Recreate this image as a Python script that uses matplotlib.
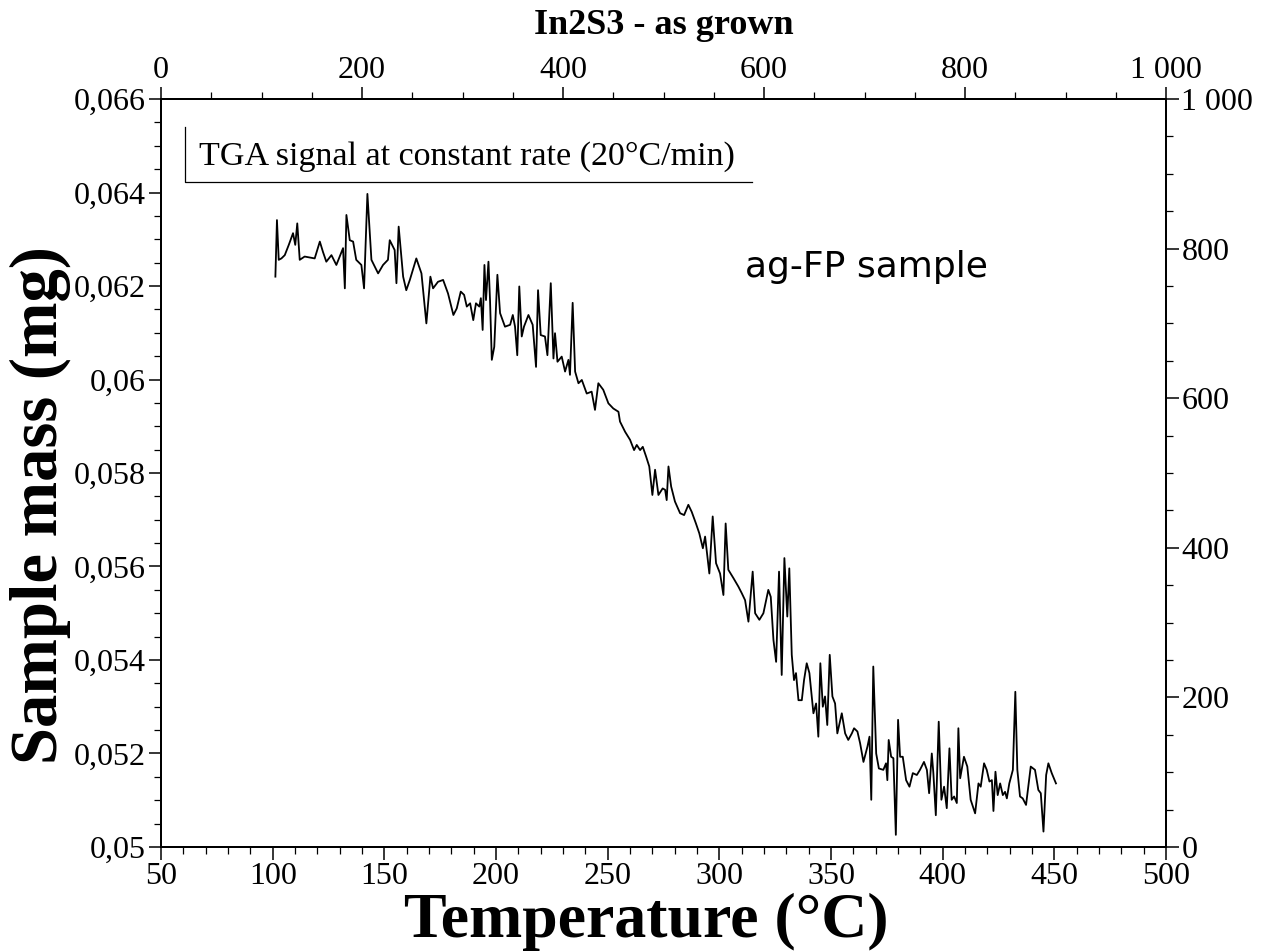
import matplotlib
matplotlib.use("Agg")
import matplotlib.pyplot as plt
from matplotlib.ticker import MultipleLocator, FuncFormatter

plt.rcParams["font.family"] = ["Liberation Serif", "DejaVu Serif"]

# TGA trace (temperature in C, mass in mg)
temp_c = [
    101.2, 101.9, 102.7, 103.9, 105.4, 107.2, 109.1, 110.1, 111.0, 112.1,
    114.3, 118.8, 121.1, 122.5, 124.0, 126.3, 128.5, 130.0, 131.5, 132.3,
    133.0, 134.5, 136.0, 137.4, 139.7, 140.9, 142.4, 144.2, 147.2, 149.4,
    151.6, 152.4, 154.6, 155.4, 156.4, 158.4, 159.8, 161.4, 164.3, 166.6,
    168.8, 170.6, 171.8, 174.0, 176.3, 178.5, 180.9, 182.4, 184.2, 185.7,
    186.9, 188.4, 189.8, 191.0, 192.5, 193.2, 194.0, 194.8, 195.5, 196.6,
    197.3, 198.1, 199.2, 200.6, 201.8, 204.0, 206.3, 207.5, 208.5, 209.5,
    210.4, 211.5, 212.5, 214.5, 216.4, 217.9, 218.8, 220.0, 221.9, 223.0,
    224.5, 225.7, 226.4, 227.5, 229.4, 230.9, 232.4, 233.1, 234.3, 235.4,
    236.9, 238.4, 240.6, 242.8, 244.3, 245.8, 248.0, 250.3, 252.5, 254.8,
    255.5, 257.8, 260.0, 261.8, 263.0, 264.5, 265.7, 267.2, 268.6, 270.0,
    271.2, 272.7, 274.6, 275.7, 276.4, 277.2, 278.4, 280.1, 282.4, 284.2,
    286.1, 287.6, 289.5, 291.0, 292.6, 293.6, 295.5, 297.0, 298.5, 300.3,
    301.8, 302.8, 304.0, 306.3, 308.5, 310.0, 311.5, 313.0, 314.9, 316.0,
    317.9, 319.7, 321.9, 323.0, 324.2, 325.4, 326.7, 327.9, 329.1, 330.4,
    331.3, 332.4, 333.4, 334.3, 335.4, 336.9, 337.9, 339.1, 340.3, 342.1,
    343.3, 344.3, 345.2, 346.3, 347.3, 348.3, 349.4, 350.6, 351.8, 352.8,
    354.8, 356.3, 357.7, 359.3, 360.3, 361.8, 363.0, 364.5, 366.3, 367.2,
    368.0, 368.9, 370.2, 371.4, 373.4, 374.6, 375.2, 375.8, 376.9, 377.9,
    379.0, 380.0, 380.9, 382.1, 383.6, 385.1, 386.6, 388.4, 389.8, 391.6,
    392.9, 393.9, 395.1, 395.8, 396.9, 398.2, 399.4, 400.6, 401.8, 403.0,
    404.0, 405.1, 406.3, 407.0, 407.8, 409.5, 411.0, 412.5, 414.5, 416.0,
    417.0, 418.5, 419.7, 420.9, 422.0, 422.7, 423.6, 424.6, 425.7, 426.9,
    427.9, 428.7, 429.8, 431.4, 432.5, 433.4, 434.6, 435.8, 437.3, 439.4,
    441.3, 442.8, 443.9, 445.1, 446.3, 447.3, 448.8, 450.7,
]
mass_mg = [
    0.06220, 0.06341, 0.06256, 0.06259, 0.06266, 0.06288, 0.06313, 0.06288, 0.06334, 0.06256,
    0.06263, 0.06259, 0.06295, 0.06273, 0.06252, 0.06266, 0.06245, 0.06263, 0.06281, 0.06195,
    0.06352, 0.06298, 0.06295, 0.06256, 0.06245, 0.06195, 0.06397, 0.06256, 0.06227, 0.06245,
    0.06256, 0.06298, 0.06277, 0.06206, 0.06327, 0.06220, 0.06191, 0.06213, 0.06259, 0.06227,
    0.06120, 0.06220, 0.06195, 0.06209, 0.06213, 0.06184, 0.06138, 0.06152, 0.06188, 0.06181,
    0.06156, 0.06163, 0.06127, 0.06163, 0.06156, 0.06174, 0.06106, 0.06245, 0.06170, 0.06252,
    0.06170, 0.06042, 0.06070, 0.06224, 0.06142, 0.06113, 0.06117, 0.06138, 0.06113, 0.06052,
    0.06199, 0.06092, 0.06113, 0.06138, 0.06117, 0.06027, 0.06191, 0.06095, 0.06092, 0.06052,
    0.06206, 0.06045, 0.06099, 0.06038, 0.06049, 0.06017, 0.06042, 0.06010, 0.06164, 0.06017,
    0.05992, 0.05999, 0.05970, 0.05974, 0.05935, 0.05992, 0.05978, 0.05949, 0.05938, 0.05931,
    0.05910, 0.05888, 0.05871, 0.05849, 0.05860, 0.05849, 0.05856, 0.05835, 0.05814, 0.05753,
    0.05807, 0.05753, 0.05767, 0.05764, 0.05742, 0.05814, 0.05771, 0.05739, 0.05714, 0.05710,
    0.05732, 0.05717, 0.05692, 0.05671, 0.05639, 0.05664, 0.05585, 0.05707, 0.05607, 0.05585,
    0.05539, 0.05692, 0.05593, 0.05575, 0.05557, 0.05543, 0.05528, 0.05482, 0.05589, 0.05500,
    0.05486, 0.05500, 0.05550, 0.05535, 0.05443, 0.05396, 0.05589, 0.05368, 0.05618, 0.05493,
    0.05596, 0.05411, 0.05357, 0.05372, 0.05314, 0.05314, 0.05357, 0.05393, 0.05372, 0.05286,
    0.05307, 0.05236, 0.05393, 0.05300, 0.05322, 0.05261, 0.05411, 0.05322, 0.05307, 0.05243,
    0.05286, 0.05243, 0.05229, 0.05243, 0.05254, 0.05247, 0.05222, 0.05182, 0.05215, 0.05236,
    0.05101, 0.05386, 0.05200, 0.05168, 0.05165, 0.05179, 0.05143, 0.05229, 0.05193, 0.05190,
    0.05026, 0.05272, 0.05193, 0.05193, 0.05143, 0.05129, 0.05158, 0.05154, 0.05165, 0.05182,
    0.05165, 0.05115, 0.05200, 0.05158, 0.05068, 0.05268, 0.05101, 0.05129, 0.05083, 0.05211,
    0.05101, 0.05108, 0.05094, 0.05254, 0.05147, 0.05193, 0.05172, 0.05101, 0.05072, 0.05136,
    0.05129, 0.05179, 0.05165, 0.05140, 0.05143, 0.05077, 0.05161, 0.05111, 0.05136, 0.05111,
    0.05118, 0.05104, 0.05136, 0.05165, 0.05332, 0.05165, 0.05108, 0.05104, 0.05090, 0.05172,
    0.05165, 0.05122, 0.05115, 0.05033, 0.05154, 0.05179, 0.05158, 0.05136,
]

x_range = (50, 500)
y_range = (0.05, 0.066)
aux_range = (0, 1000)

title = "In2S3 - as grown"
x_label = "Temperature (°C)"
y_label = "Sample mass (mg)"
box_text = "TGA signal at constant rate (20°C/min)"
sample_text = "ag-FP sample"


def comma_fmt(v, _pos):
    return ("%g" % v).replace(".", ",")


def space_fmt(v, _pos):
    return "{:,.0f}".format(v).replace(",", " ")


fig = plt.figure(figsize=(12.62, 9.52), dpi=100)
ax = fig.add_axes([0.1276, 0.1103, 0.7964, 0.7857])

ax.plot(temp_c, mass_mg, color="black", linewidth=1.3)
ax.set_xlim(*x_range)
ax.set_ylim(*y_range)

ax.xaxis.set_major_locator(MultipleLocator(50))
ax.xaxis.set_minor_locator(MultipleLocator(10))
ax.yaxis.set_major_locator(MultipleLocator(0.002))
ax.yaxis.set_minor_locator(MultipleLocator(0.0005))
ax.yaxis.set_major_formatter(FuncFormatter(comma_fmt))

ax_top = ax.twiny()
ax_top.set_xlim(*aux_range)
ax_top.xaxis.set_major_locator(MultipleLocator(200))
ax_top.xaxis.set_minor_locator(MultipleLocator(50))
ax_top.xaxis.set_major_formatter(FuncFormatter(space_fmt))

ax_right = ax.twinx()
ax_right.set_ylim(*aux_range)
ax_right.yaxis.set_major_locator(MultipleLocator(200))
ax_right.yaxis.set_minor_locator(MultipleLocator(50))
ax_right.yaxis.set_major_formatter(FuncFormatter(space_fmt))

for a in (ax, ax_top, ax_right):
    a.tick_params(which="major", direction="out", length=9, width=1.1,
                  labelsize=23, pad=2)
    a.tick_params(which="minor", direction="out", length=5, width=0.9)
    for spine in a.spines.values():
        spine.set_linewidth(1.3)
ax_top.tick_params(which="major", pad=1)

ax.set_xlabel(x_label, fontsize=46, fontweight="bold", va="center")
ax.xaxis.set_label_coords(0.483, -0.100)
ax.set_ylabel(y_label, fontsize=48, fontweight="bold", va="center")
ax.yaxis.set_label_coords(-0.120, 0.457)
ax_top.set_title(title, fontsize=26, fontweight="bold", pad=16)

# half-framed caption box in the upper left corner
ax.plot([0.024, 0.024, 0.588], [0.963, 0.889, 0.889], color="black",
        linewidth=0.9, transform=ax.transAxes, clip_on=False)
ax.text(0.038, 0.923, box_text, transform=ax.transAxes, fontsize=24.5,
        va="center", ha="left")
ax.text(0.581, 0.775, sample_text, transform=ax.transAxes, fontsize=26,
        va="center", ha="left", family=["DejaVu Sans"])

fig.savefig("out.png", dpi=100, facecolor="white")
